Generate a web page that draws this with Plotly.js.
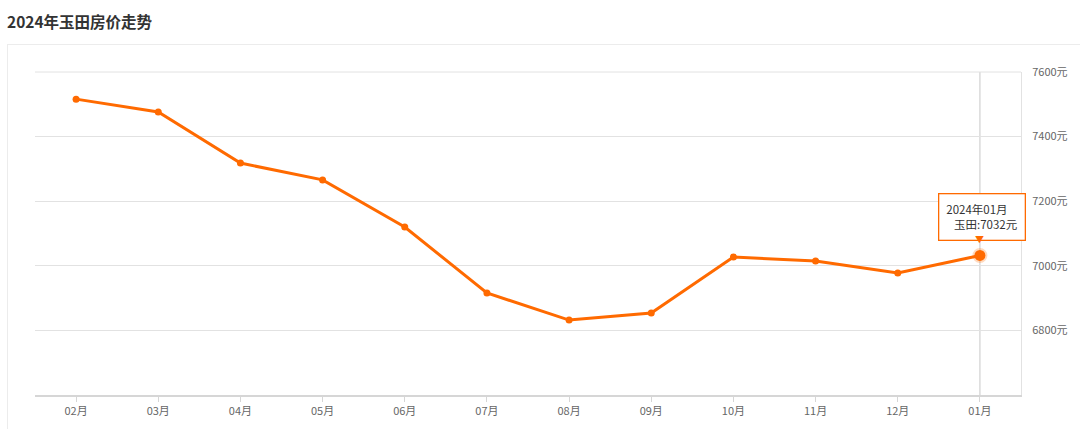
<!DOCTYPE html>
<html><head><meta charset="utf-8">
<script src="https://cdn.plot.ly/plotly-3.0.1.min.js"></script>
<style>
html,body{margin:0;padding:0;background:#fff;}
#wrap{position:relative;width:1080px;height:429px;overflow:hidden;}
#panel{position:absolute;left:7px;top:44px;width:1100px;height:420px;border:1px solid #ececec;box-sizing:border-box;}
#chart{position:absolute;left:0;top:0;width:1080px;height:429px;}
</style></head>
<body><div id="wrap"><div id="panel"></div><div id="chart"></div></div>
<script>
const chartTitle = "2024年玉田房价走势";
const seriesName = "玉田";
const months = ["02月","03月","04月","05月","06月","07月","08月","09月","10月","11月","12月","01月"];
const prices = [7516,7476,7318,7266,7120,6916,6832,6854,7027,7015,6978,7032];
const yTicks = [6800,7000,7200,7400,7600];
const yTickText = ["6800元","7000元","7200元","7400元","7600元"];
const tooltipTitle = "2024年01月";

const orange = "#ff6a00";
const last = months.length - 1;

const traces = [
  {x: months, y: prices, type: "scatter", mode: "lines+markers", name: seriesName,
   line: {color: orange, width: 3}, marker: {color: orange, size: 7}, hoverinfo: "skip"},
  {x: [months[last]], y: [prices[last]], type: "scatter", mode: "markers",
   marker: {color: orange, size: 11, line: {color: "rgba(255,106,0,0.25)", width: 4}}, hoverinfo: "skip"}
];

const layout = {
  width: 1080, height: 429,
  paper_bgcolor: "rgba(0,0,0,0)", plot_bgcolor: "rgba(0,0,0,0)",
  margin: {l: 35, r: 59, t: 72, b: 34},
  showlegend: false,
  font: {family: "Noto Sans CJK SC, Noto Sans, sans-serif", color: "#666", size: 11},
  title: {text: "<b>" + chartTitle + "</b>", x: 0, xref: "container", xanchor: "left", y: 0.948, yref: "container",
          yanchor: "middle", pad: {l: 7}, font: {size: 15.5, color: "#333", family: "Noto Sans CJK SC, sans-serif"}},
  xaxis: {type: "category", categoryarray: months, range: [-0.5, months.length - 0.5],
          showgrid: false, showline: true, linecolor: "#d6d6d6", linewidth: 1.5,
          ticks: "outside", ticklen: 5, tickcolor: "#d6d6d6", zeroline: false,
          tickfont: {size: 11, color: "#666"}, fixedrange: true},
  yaxis: {side: "right", range: [6600, 7600], tickmode: "array", tickvals: yTicks, ticktext: yTickText,
          showgrid: true, gridcolor: "#e2e2e2", gridwidth: 1, zeroline: false,
          showline: true, linecolor: "#e2e2e2", ticks: "", ticklabelstandoff: 8,
          tickfont: {size: 11, color: "#666"}, fixedrange: true},
  shapes: [
    {type: "line", xref: "x", yref: "paper", x0: months[last], x1: months[last], y0: 0, y1: 1,
     line: {color: "#d0d0d0", width: 1.2}, layer: "below"},
    {type: "line", xref: "paper", yref: "paper", x0: 0, x1: 1, y0: 1, y1: 1,
     line: {color: "#e2e2e2", width: 1}, layer: "below"}
  ],
  annotations: [
    {x: months[last], y: prices[last], xref: "x", yref: "y", showarrow: false,
     text: tooltipTitle + "<br>&nbsp;&nbsp;&nbsp;" + seriesName + ":" + prices[last] + "元",
     align: "left", xanchor: "center", yanchor: "bottom", yshift: 14, xshift: 2,
     bgcolor: "#ffffff", bordercolor: orange, borderwidth: 1.3, borderpad: 7,
     font: {size: 11.5, color: "#333"}},
    {x: months[last], y: prices[last], xref: "x", yref: "y", showarrow: false,
     text: "▼", xanchor: "center", yanchor: "bottom", yshift: 7,
     font: {size: 9, color: orange}}
  ]
};
Plotly.newPlot("chart", traces, layout, {displayModeBar: false, staticPlot: true});
</script></body></html>
